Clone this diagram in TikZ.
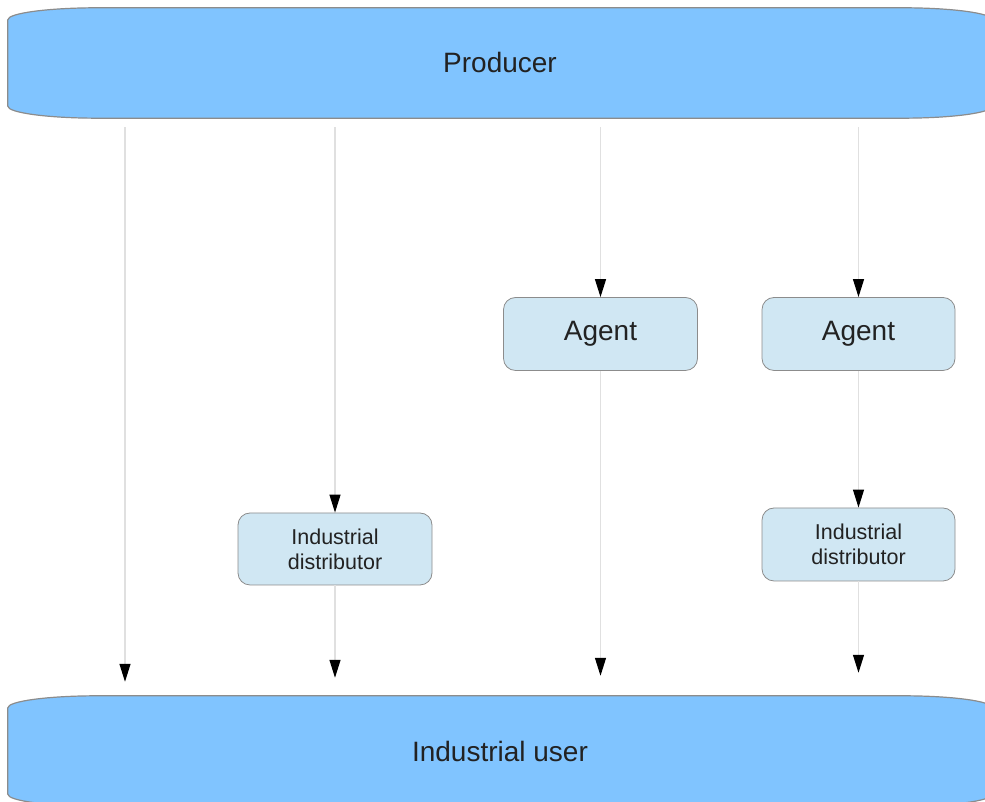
\documentclass[tikz,border=0pt]{standalone}
\usepackage{fontspec}
\setmainfont{Liberation Sans}
\usetikzlibrary{arrows.meta,backgrounds}

\definecolor{barblue}{HTML}{80C4FF}
\definecolor{boxblue}{HTML}{D0E7F3}
\definecolor{edgegray}{HTML}{8C8C8C}
\definecolor{flowgray}{HTML}{E0E0E0}
\definecolor{inkgray}{HTML}{222222}

% wide bar with flat ends and elliptic corners, drawn round a node
\newcommand\barshape[1]{%
  \fill[barblue, draw=edgegray, line width=1.2pt]
    ([yshift=-12pt]#1.north west) arc[start angle=180, end angle=90, x radius=90pt, y radius=12pt]
    -- ([xshift=-90pt]#1.north east) arc[start angle=90, end angle=0, x radius=90pt, y radius=12pt]
    -- ([yshift=12pt]#1.south east) arc[start angle=0, end angle=-90, x radius=90pt, y radius=12pt]
    -- ([xshift=90pt]#1.south west) arc[start angle=-90, end angle=-180, x radius=90pt, y radius=12pt]
    -- cycle;}

\begin{document}
\begin{tikzpicture}[x=1pt, y=1pt, line join=round, text=inkgray,
    bar/.style={minimum width=984pt, minimum height=110pt, inner sep=0pt, font=\fontsize{28}{32}\selectfont},
    stage/.style={draw=edgegray, fill=boxblue, rounded corners=12pt, line width=0.8pt, inner sep=0pt,
      minimum width=194pt, minimum height=73pt, align=center},
    big/.style={font=\fontsize{28}{32}\selectfont},
    small/.style={font=\fontsize{21.5}{25}\selectfont},
    flow/.style={draw=flowgray, line width=1.2pt, -{Triangle[width=11pt, length=18pt, color=black]}}]
  \useasboundingbox (0,0) rectangle (985,802);
  \clip (0,0) rectangle (985,802);

  \node[bar] (prod) at (500,739) {Producer};
  \node[bar] (user) at (500,51) {Industrial user};
  \begin{scope}[on background layer]
    \barshape{prod}
    \barshape{user}
  \end{scope}

  \node[stage, big] (agentA) at (600.5,468) {Agent};
  \node[stage, big, minimum width=193pt] (agentB) at (858.5,468) {Agent};
  \node[stage, small, minimum height=72pt] (distA) at (335,253) {Industrial\\distributor};
  \node[stage, small, minimum width=193pt] (distB) at (858.5,257.5) {Industrial\\distributor};
  \coordinate (ch1) at (125,0);

  % channels from producer to industrial user
  \draw[flow, shorten <=9pt, shorten >=14pt] (ch1 |- prod.south) -- (ch1 |- user.north);
  \draw[flow, shorten <=9pt] (distA.north |- prod.south) -- (distA.north);
  \draw[flow, shorten >=18pt] (distA.south) -- (distA.south |- user.north);
  \draw[flow, shorten <=9pt] (agentA.north |- prod.south) -- (agentA.north);
  \draw[flow, shorten >=20pt] (agentA.south) -- (agentA.south |- user.north);
  \draw[flow, shorten <=9pt] (agentB.north |- prod.south) -- (agentB.north);
  \draw[flow] (agentB.south) -- (distB.north);
  \draw[flow, shorten >=23pt] (distB.south) -- (distB.south |- user.north);
\end{tikzpicture}
\end{document}
